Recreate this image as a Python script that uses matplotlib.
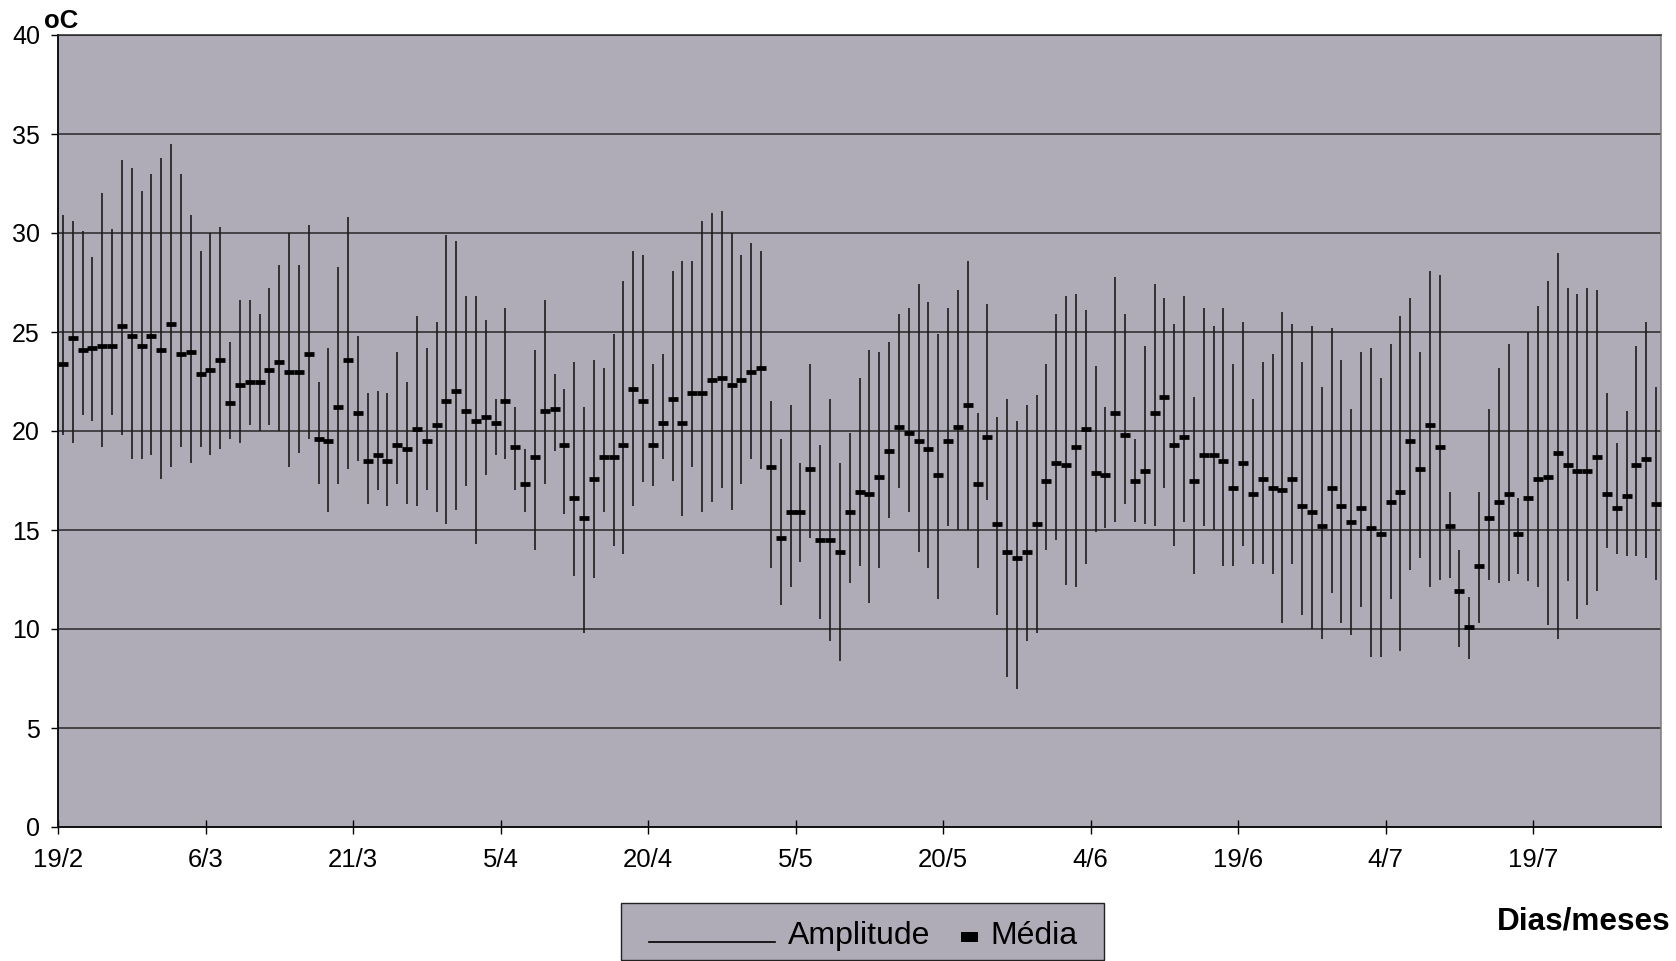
import matplotlib
matplotlib.use('Agg')
import matplotlib.pyplot as plt
import numpy as np
from matplotlib.patches import Rectangle
from matplotlib.lines import Line2D

plt.rcParams['font.family'] = ['Liberation Sans', 'DejaVu Sans']

# daily temperature (oC), one value per day from 19/2 to 31/7
t_max = [30.9, 30.6, 30.1, 28.8, 32.0, 30.2, 33.7, 33.3, 32.1, 33.0, 33.8, 34.5, 33.0, 30.9, 29.1, 30.0, 30.3, 24.5, 26.6, 26.6,
         25.9, 27.2, 28.4, 30.0, 28.4, 30.4, 22.5, 24.2, 28.3, 30.8, 24.8, 21.9, 22.0, 21.9, 24.0, 22.5, 25.8, 24.2, 25.5, 29.9,
         29.6, 26.8, 26.8, 25.6, 21.6, 26.2, 21.2, 19.1, 24.1, 26.6, 22.9, 22.1, 23.5, 21.2, 23.6, 23.2, 24.9, 27.6, 29.1, 28.9,
         23.4, 23.9, 28.1, 28.6, 28.6, 30.6, 31.0, 31.1, 30.0, 28.9, 29.5, 29.1, 21.5, 19.6, 21.3, 18.4, 23.4, 19.3, 21.6, 18.4,
         19.9, 22.7, 24.1, 24.0, 24.5, 25.9, 26.2, 27.4, 26.5, 24.9, 26.2, 27.1, 28.6, 20.9, 26.4, 20.7, 21.6, 20.5, 21.3, 21.8,
         23.4, 25.9, 26.8, 26.9, 26.1, 23.3, 21.2, 27.8, 25.9, 19.6, 24.3, 27.4, 26.7, 25.4, 26.8, 21.7, 26.2, 25.3, 26.2, 23.4,
         25.5, 21.6, 23.5, 23.9, 26.0, 25.4, 23.5, 25.3, 22.2, 25.2, 23.6, 21.1, 24.0, 24.2, 22.7, 24.4, 25.8, 26.7, 24.0, 28.1,
         27.9, 16.9, 14.0, 11.6, 16.9, 21.1, 23.2, 24.4, 16.6, 25.0, 26.3, 27.6, 29.0, 27.2, 26.9, 27.2, 27.1, 21.9, 19.4, 21.0,
         24.3, 25.5, 22.2]
t_min = [19.8, 19.4, 20.8, 20.5, 19.2, 20.8, 19.8, 18.6, 18.6, 18.8, 17.6, 18.2, 19.2, 18.4, 19.2, 18.8, 19.1, 19.6, 19.4, 20.3,
         20.0, 20.3, 20.0, 18.2, 18.9, 19.6, 17.3, 15.9, 17.3, 18.1, 18.5, 16.3, 17.0, 16.2, 17.3, 16.3, 16.2, 17.0, 15.9, 15.3,
         16.0, 17.2, 14.3, 17.8, 18.8, 18.6, 17.0, 15.9, 14.0, 17.3, 19.0, 15.8, 12.7, 9.8, 12.6, 15.9, 14.2, 13.8, 16.2, 17.4,
         17.2, 18.6, 17.5, 15.7, 18.2, 15.9, 16.4, 17.1, 16.0, 17.3, 18.6, 18.1, 13.1, 11.2, 12.1, 13.4, 14.6, 10.5, 9.4, 8.4,
         12.3, 13.2, 11.3, 13.1, 15.6, 17.1, 15.9, 13.9, 13.1, 11.5, 15.2, 15.0, 15.0, 13.1, 16.5, 10.7, 7.6, 6.95, 9.4, 9.8,
         14.0, 14.5, 12.2, 12.1, 13.3, 14.9, 15.1, 15.4, 16.3, 15.4, 15.3, 15.2, 17.1, 14.2, 15.4, 12.8, 15.2, 15.0, 13.2, 13.2,
         14.2, 13.3, 13.3, 12.8, 10.3, 13.3, 10.7, 10.0, 9.5, 11.8, 10.3, 9.7, 11.1, 8.6, 8.6, 11.5, 8.9, 13.0, 13.6, 12.1,
         12.5, 12.6, 9.1, 8.5, 10.3, 12.5, 12.3, 12.4, 12.8, 12.4, 12.1, 10.2, 9.5, 12.4, 10.5, 11.2, 11.9, 14.1, 13.8, 13.7,
         13.7, 13.6, 12.5]
t_med = [23.4, 24.7, 24.1, 24.2, 24.3, 24.3, 25.3, 24.8, 24.3, 24.8, 24.1, 25.4, 23.9, 24.0, 22.9, 23.1, 23.6, 21.4, 22.3, 22.5,
         22.5, 23.1, 23.5, 23.0, 23.0, 23.9, 19.6, 19.5, 21.2, 23.6, 20.9, 18.5, 18.8, 18.5, 19.3, 19.1, 20.1, 19.5, 20.3, 21.5,
         22.0, 21.0, 20.5, 20.7, 20.4, 21.5, 19.2, 17.3, 18.7, 21.0, 21.1, 19.3, 16.6, 15.6, 17.6, 18.7, 18.7, 19.3, 22.1, 21.5,
         19.3, 20.4, 21.6, 20.4, 21.9, 21.9, 22.6, 22.7, 22.3, 22.6, 23.0, 23.2, 18.2, 14.6, 15.9, 15.9, 18.1, 14.5, 14.5, 13.9,
         15.9, 16.9, 16.8, 17.7, 19.0, 20.2, 19.9, 19.5, 19.1, 17.8, 19.5, 20.2, 21.3, 17.3, 19.7, 15.3, 13.9, 13.6, 13.9, 15.3,
         17.5, 18.4, 18.3, 19.2, 20.1, 17.9, 17.8, 20.9, 19.8, 17.5, 18.0, 20.9, 21.7, 19.3, 19.7, 17.5, 18.8, 18.8, 18.5, 17.1,
         18.4, 16.8, 17.6, 17.1, 17.0, 17.6, 16.2, 15.9, 15.2, 17.1, 16.2, 15.4, 16.1, 15.1, 14.8, 16.4, 16.9, 19.5, 18.1, 20.3,
         19.2, 15.2, 11.9, 10.1, 13.2, 15.6, 16.4, 16.8, 14.8, 16.6, 17.6, 17.7, 18.9, 18.3, 18.0, 18.0, 18.7, 16.8, 16.1, 16.7,
         18.3, 18.6, 16.3]
date_labels = ['19/2', '6/3', '21/3', '5/4', '20/4', '5/5', '20/5', '4/6', '19/6', '4/7', '19/7']

W, H = 1676, 961
bg = '#afacb7'

fig = plt.figure(figsize=(W / 100, H / 100), dpi=100)
fig.patch.set_facecolor('white')
ax = fig.add_axes([58 / W, 1 - 827 / H, (1661 - 58) / W, (827 - 35) / H])
ax.set_facecolor(bg)

days = np.arange(len(t_med))

# daily range lines and mean markers
ax.vlines(days, t_min, t_max, colors='#1c1c1c', linewidth=1.2, zorder=3)
ax.plot(days, t_med, ls='none', marker='_', ms=6.5, mew=3.4, color='black', zorder=4)

ax.set_xlim(-0.5, len(t_med) - 0.5)
ax.set_ylim(0, 40)
ax.set_yticks(np.arange(0, 41, 5))
ax.set_xticks(np.arange(len(date_labels)) * 15 - 0.5)
ax.set_xticklabels(date_labels)

ax.yaxis.grid(True, color='#262626', linewidth=1.1)
ax.set_axisbelow(True)

ax.tick_params(axis='y', direction='out', length=5, width=1, pad=8, labelsize=18)
ax.tick_params(axis='x', direction='inout', length=10, width=1, pad=10, labelsize=18.5)

for side in ['left', 'bottom']:
    ax.spines[side].set_color('#111111')
    ax.spines[side].set_linewidth(1.4)
ax.spines['top'].set_color('#262626')
ax.spines['top'].set_linewidth(1.1)
ax.spines['right'].set_color('#7a7a7a')
ax.spines['right'].set_linewidth(1.1)

ax.text(-14 / 1603, 1 + 7 / 792, 'oC', transform=ax.transAxes, ha='left', va='baseline',
        fontsize=18.5, fontweight='bold')
fig.text(1670 / W, 1 - 930 / H, 'Dias/meses', ha='right', va='baseline',
         fontsize=22.7, fontweight='bold')


# legend box below the plot
def fx(px):
    return px / W


def fy(py):
    return 1 - py / H


fig.add_artist(Rectangle((fx(621), fy(960)), fx(1104) - fx(621), fy(903) - fy(960),
                         facecolor=bg, edgecolor='#222222', linewidth=1.0))
fig.add_artist(Line2D([fx(649), fx(775)], [fy(942), fy(942)], color='black', linewidth=1.2))
fig.text(fx(788), fy(944), 'Amplitude', ha='left', va='baseline', fontsize=23)
fig.add_artist(Rectangle((fx(961), fy(942)), fx(978) - fx(961), fy(932) - fy(942),
                         facecolor='black', edgecolor='none'))
fig.text(fx(990), fy(944), 'Média', ha='left', va='baseline', fontsize=23)

plt.savefig('out.png', dpi=100)
plt.close()
